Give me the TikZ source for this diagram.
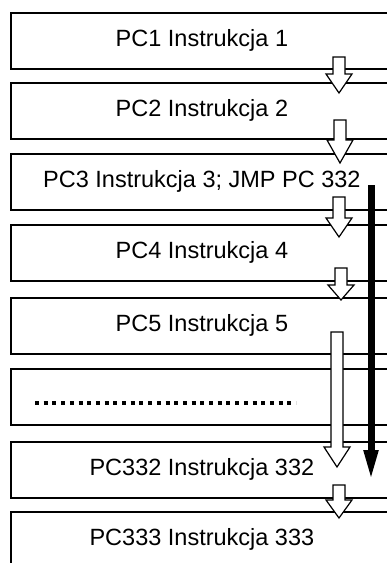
\documentclass[tikz,border=0pt]{standalone}
\usepackage{fontspec}
\setmainfont{Liberation Sans}
\usetikzlibrary{arrows.meta}
\tikzset{
  box/.style={draw, line width=1.8pt, rectangle, minimum width=382pt,
    minimum height=56pt, anchor=north west, inner sep=0pt,
    font=\fontsize{23.5}{28}\selectfont},
  barrowstyle/.style={draw, line width=1.2pt, fill=white, line join=miter},
  jmp/.style={line width=7pt, -{Triangle[length=32pt,width=13pt]}},
  dotline/.style={line width=3.6pt, dash pattern=on 4pt off 4.7pt}
}
% #1 = x centre, #2 = shaft top, #3 = head base, #4 = tip
\newcommand{\myblockarrow}[4]{%
  \path[barrowstyle] (#1-6,#2) -- (#1-6,#3) -- (#1-13,#3) -- (#1,#4)
    -- (#1+13,#3) -- (#1+6,#3) -- (#1+6,#2) -- cycle;}
\begin{document}
\begin{tikzpicture}[x=1pt,y=-1pt]
\useasboundingbox (0,0) rectangle (387,563);
\clip (0,0) rectangle (387,563);
\node[box] (b1) at (10,12)  {PC1 Instrukcja 1};
\node[box] (b2) at (10,82)  {PC2 Instrukcja 2};
\node[box] (b3) at (10,153) {PC3 Instrukcja 3; JMP PC 332};
\node[box] (b4) at (10,224) {PC4 Instrukcja 4};
\node[box] (b5) at (10,297) {PC5 Instrukcja 5};
\node[box] (b6) at (10,368) {};
\node[box] (b7) at (10,441) {PC332 Instrukcja 332};
\node[box] (b8) at (10,511) {PC333 Instrukcja 333};
\coordinate (d1) at (35,403);
\coordinate (d2) at (296,403);
\draw[dotline] (d1) -- (d2);
\myblockarrow{339}{57}{74}{93}
\myblockarrow{340}{120}{140}{163}
\myblockarrow{339}{197}{218}{237}
\myblockarrow{341}{268}{285}{300}
\myblockarrow{337}{332}{447}{467}
\myblockarrow{339}{485}{500}{518}
\coordinate (j1) at (371,185);
\coordinate (j2) at (371,482);
\draw[jmp] (j1) -- (j2);
\end{tikzpicture}
\end{document}
